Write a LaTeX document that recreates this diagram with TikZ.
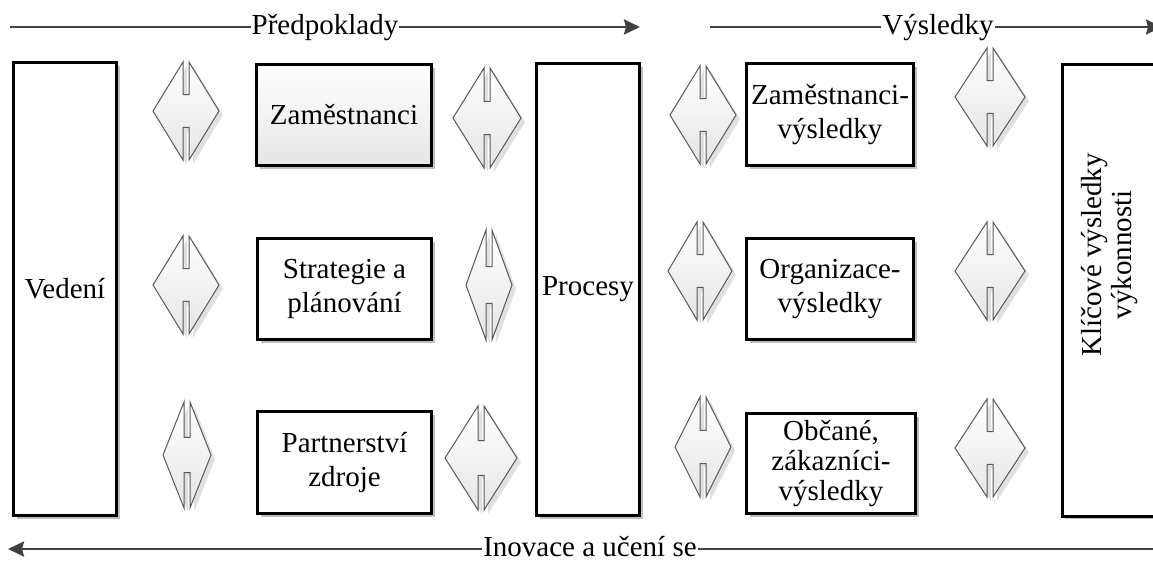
\documentclass[tikz,border=0pt]{standalone}
\usepackage{fontspec}
\setmainfont{Liberation Serif}
\usetikzlibrary{arrows.meta,shadows}
\begin{document}
\begin{tikzpicture}[x=0.5pt,y=-0.5pt,
  every node/.style={font=\fontsize{14.5}{17}\selectfont, align=center, inner sep=0pt},
  box/.style={draw=black, line width=1.5pt, fill=white,
    drop shadow={shadow xshift=1.5pt, shadow yshift=-1.5pt, fill=black!25, opacity=1}},
  flow/.style={draw=black!75, line width=1.25pt, -{Stealth[length=8pt,width=7.5pt,inset=1pt]}},
  flowlabel/.style={fill=white, inner xsep=0.5pt, inner ysep=1pt, anchor=base},
  dw/.store in=\dw, dh/.store in=\dh, dw=33, dh=49,
  pics/twinhead/.style={code={
    \begin{scope}[shift={(4,4)}]
      \fill[black!12] (-3,-\dh) -- (-\dw,0) -- (-3,\dh) -- (-3,\dh/3) -- (3,\dh/3) -- (3,\dh)
        -- (\dw,0) -- (3,-\dh) -- (3,-\dh/3) -- (-3,-\dh/3) -- cycle;
    \end{scope}
    \draw[draw=black!65, line width=0.5pt, top color=white, bottom color=black!10]
      (-3,-\dh) -- (-\dw,0) -- (-3,\dh) -- (-3,\dh/3) -- (3,\dh/3) -- (3,\dh)
      -- (\dw,0) -- (3,-\dh) -- (3,-\dh/3) -- (-3,-\dh/3) -- cycle;
  }}
]
\useasboundingbox (0,0) rectangle (1153,562);
\clip (0,0) rectangle (1153,562);

% main columns
\node[box, minimum width=51.5pt, minimum height=226.5pt] (ved) at (65,289) {Vedení};
\node[box, minimum width=51.5pt, minimum height=226pt] (proc) at (588,289.5) {Procesy};
\node[box, minimum width=48pt, minimum height=226pt] (kvv) at (1110,290) {};
\node[rotate=90, font=\fontsize{14.5}{15}\selectfont] (kvvtext) at (1110,255) {Klíčové výsledky\\výkonnosti};

% enablers
\node[box, top color=white, bottom color=black!10, minimum width=87.5pt, minimum height=50.5pt] (zam) at (344,115) {Zaměstnanci};
\node[box, minimum width=87pt, minimum height=50.5pt] (strat) at (344.5,289) {Strategie a\\plánování};
\node[box, minimum width=87pt, minimum height=51pt] (part) at (344.5,462.5) {Partnerství\\zdroje};

% results
\node[box, minimum width=83.5pt, minimum height=51pt] (zamv) at (830,114.5) {Zaměstnanci-\\výsledky};
\node[box, minimum width=83.5pt, minimum height=50.5pt] (orgv) at (830,289) {Organizace-\\výsledky};
\node[box, minimum width=84.5pt, minimum height=50pt, font=\fontsize{14.5}{15}\selectfont] (obcv) at (831,463.5) {Občané,\\zákazníci-\\výsledky};

% two-way links between the columns
\pic[dw=33,dh=49] at (186,111) {twinhead};
\pic[dw=33,dh=49] at (186,285) {twinhead};
\pic[dw=24,dh=53] at (187,455) {twinhead};
\pic[dw=34,dh=50] at (487,118) {twinhead};
\pic[dw=23,dh=55] at (489,285) {twinhead};
\pic[dw=36,dh=52] at (481,458) {twinhead};
\pic[dw=33,dh=49] at (703,115) {twinhead};
\pic[dw=32,dh=49] at (700,271) {twinhead};
\pic[dw=28,dh=50] at (703,447) {twinhead};
\pic[dw=35,dh=49] at (990,97) {twinhead};
\pic[dw=35,dh=49] at (990,271) {twinhead};
\pic[dw=35,dh=49] at (990,448) {twinhead};

% flow arrows
\coordinate (a0) at (10,27);
\coordinate (a1) at (640,27);
\coordinate (b0) at (710,27);
\coordinate (b1) at (1162,27);
\coordinate (c0) at (1170,549);
\coordinate (c1) at (8,549);
\draw[flow] (a0) -- (a1);
\draw[flow] (b0) -- (b1);
\draw[flow] (c0) -- (c1);
\node[flowlabel] (pred) at (325,34.5) {Předpoklady};
\node[flowlabel] (vys) at (938,34.5) {Výsledky};
\node[flowlabel] (ino) at (590,556.5) {Inovace a učení se};
\end{tikzpicture}
\end{document}
